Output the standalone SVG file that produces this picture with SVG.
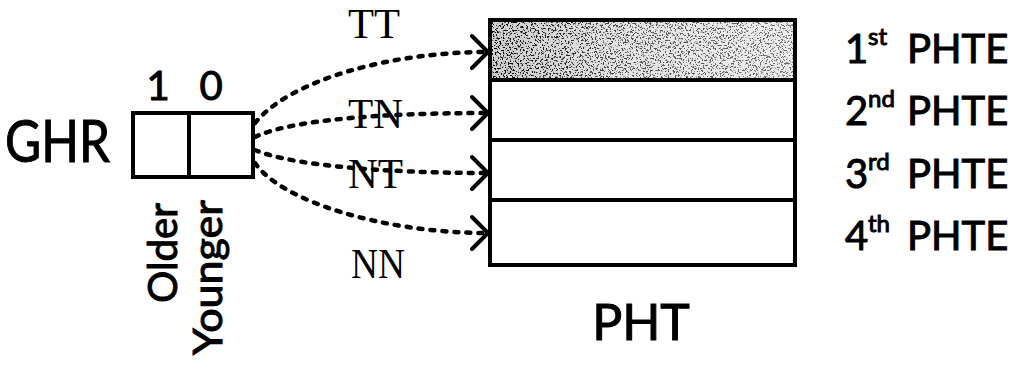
<svg xmlns="http://www.w3.org/2000/svg" width="1018" height="365" viewBox="0 0 1018 365">
<style>
.sans{font-family:Lato,"Open Sans","Liberation Sans",sans-serif;fill:#000;stroke:#000;stroke-width:1}
.mono{font-family:"Liberation Serif","DejaVu Serif",serif;fill:#000;font-size:42px}
.box{fill:none;stroke:#000;stroke-width:4}
.conn{fill:none;stroke:#000;stroke-width:4.5;stroke-dasharray:4 8;stroke-linecap:round}
</style>
<defs>
<marker id="chev" markerUnits="userSpaceOnUse" markerWidth="30" markerHeight="44" viewBox="-22 -22 26 44" refX="0" refY="0" orient="auto">
<path d="M-16,-16 L0,0 L-16,16" fill="none" stroke="#000" stroke-width="4" stroke-linecap="round"/>
</marker>
<filter id="speckle" x="0" y="0" width="100%" height="100%">
<feTurbulence type="fractalNoise" baseFrequency="0.6" numOctaves="2" seed="7" result="n"/>
<feColorMatrix in="n" type="matrix" values="0 0 0 0 0  0 0 0 0 0  0 0 0 0 0  -12 0 0 0 5.4" result="dots"/>
<feComposite in="dots" in2="SourceGraphic" operator="in"/>
</filter>
<linearGradient id="dens" x1="0" x2="1" y1="0" y2="0">
<stop offset="0" stop-color="#000" stop-opacity="1"/>
<stop offset="0.4" stop-color="#000" stop-opacity="0.7"/>
<stop offset="1" stop-color="#000" stop-opacity="0.55"/>
</linearGradient>
<linearGradient id="base" x1="0" x2="1" y1="0" y2="0">
<stop offset="0" stop-color="#cfcfcf"/>
<stop offset="0.4" stop-color="#e4e4e4"/>
<stop offset="1" stop-color="#eeeeee"/>
</linearGradient>
</defs>

<g id="ghr">
<text class="sans" x="5" y="162" font-size="58" textLength="105" lengthAdjust="spacingAndGlyphs">GHR</text>
<rect class="box" x="133" y="113" width="120" height="64"/>
<line class="box" x1="189" y1="113" x2="189" y2="177"/>
<text class="sans" x="158" y="100" font-size="40" text-anchor="middle">1</text>
<text class="sans" x="211" y="100" font-size="40" text-anchor="middle">0</text>
<text class="sans" font-size="40" transform="translate(177,303) rotate(-90)" textLength="100" lengthAdjust="spacingAndGlyphs">Older</text>
<text class="sans" font-size="40" transform="translate(222,355) rotate(-90)" textLength="155" lengthAdjust="spacingAndGlyphs">Younger</text>
</g>

<g id="labels">
<text class="mono" x="348" y="38" textLength="52" lengthAdjust="spacingAndGlyphs">TT</text>
<text class="mono" x="348" y="128" textLength="55" lengthAdjust="spacingAndGlyphs">TN</text>
<text class="mono" x="348" y="188" textLength="55" lengthAdjust="spacingAndGlyphs">NT</text>
<text class="mono" x="351" y="278" textLength="54" lengthAdjust="spacingAndGlyphs">NN</text>
</g>

<g id="pht">
<rect x="492" y="22" width="301" height="58" fill="url(#base)"/>
<rect x="492" y="22" width="301" height="58" fill="url(#dens)" filter="url(#speckle)"/>
<rect class="box" x="490" y="20" width="305" height="245" stroke-width="4.5"/>
<line class="box" x1="490" y1="80" x2="795" y2="80"/>
<line class="box" x1="490" y1="140" x2="795" y2="140"/>
<line class="box" x1="490" y1="200" x2="795" y2="200"/>
<text class="sans" x="641" y="340" font-size="50" text-anchor="middle">PHT</text>
</g>

<g id="pht-entries">
<text class="sans" font-size="40" y="63"><tspan x="845">1</tspan><tspan font-size="24" x="868" y="45">st</tspan><tspan x="907" y="63">PHTE</tspan></text>
<text class="sans" font-size="40" y="125"><tspan x="845">2</tspan><tspan font-size="24" x="868" y="107">nd</tspan><tspan x="907" y="125">PHTE</tspan></text>
<text class="sans" font-size="40" y="188"><tspan x="845">3</tspan><tspan font-size="24" x="868" y="170">rd</tspan><tspan x="907" y="188">PHTE</tspan></text>
<text class="sans" font-size="40" y="250"><tspan x="845">4</tspan><tspan font-size="24" x="868" y="232">th</tspan><tspan x="907" y="250">PHTE</tspan></text>
</g>

<g id="connectors">
<path class="conn" d="M255,123 C290,80 390,52 488,52" marker-end="url(#chev)"/>
<path class="conn" d="M255,137 C290,120 380,113 488,113" marker-end="url(#chev)"/>
<path class="conn" d="M255,150 C290,165 380,173 488,173" marker-end="url(#chev)"/>
<path class="conn" d="M255,163 C280,200 380,233 488,233" marker-end="url(#chev)"/>
</g>
</svg>
